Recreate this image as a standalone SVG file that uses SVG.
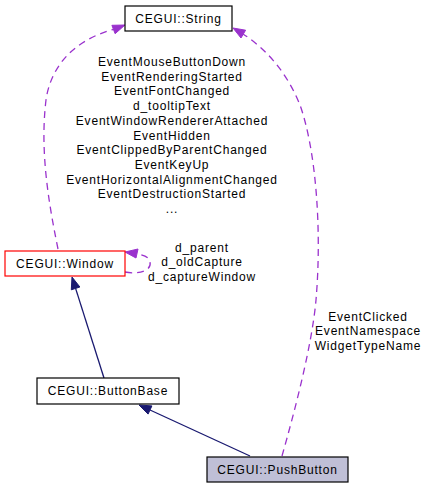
<svg xmlns="http://www.w3.org/2000/svg" width="425" height="488" viewBox="0 0 425 488">
<style>
text{font-family:"Liberation Sans",Arial,sans-serif;font-size:12px;letter-spacing:0.8px;fill:#000000;text-anchor:middle}
.box{fill:#ffffff;stroke:#000000;stroke-width:1.2}
.cur{fill:#bfbfd6;stroke:#000000;stroke-width:1.2}
.red{fill:#ffffff;stroke:#ff0000;stroke-width:1.2}
.inh{fill:none;stroke:#191970;stroke-width:1.3}
.use{fill:none;stroke:#9a32cd;stroke-width:1.3;stroke-dasharray:7,5}
.ah{fill:#191970;stroke:#191970}
.ap{fill:#9a32cd;stroke:#9a32cd}
</style>
<rect width="425" height="488" fill="#ffffff"/>
<g id="connectors">
<path class="inh" d="M104,378 L75.6,288.4"/>
<polygon class="ah" points="72,277 79.9,287 71.3,289.8"/>
<path class="inh" d="M250,456 L150,410"/>
<polygon class="ah" points="139,405 148.1,414.1 151.9,405.9"/>
<path class="use" d="M58,249 C48,200 40,150 46,100 C51,65 75,40 113,29.5"/>
<polygon class="ap" points="125,25 111.9,25.3 115.1,33.7"/>
<path class="use" d="M282,456 C295,410 312,345 316,300 C322,230 316,150 300,105 C288,75 268,50 243,34"/>
<polygon class="ap" points="233,28 241,38 245.6,30.2"/>
<path class="use" d="M125,272 C140,275 152,270 150,262 C149,257 144,255 137,254"/>
<polygon class="ap" points="125,252 138,249 136,258"/>
<text x="172" y="66">EventMouseButtonDown</text>
<text x="172" y="80.7">EventRenderingStarted</text>
<text x="172" y="95.4">EventFontChanged</text>
<text x="172" y="110.1">d_tooltipText</text>
<text x="172" y="124.8">EventWindowRendererAttached</text>
<text x="172" y="139.5">EventHidden</text>
<text x="172" y="154.2">EventClippedByParentChanged</text>
<text x="172" y="168.9">EventKeyUp</text>
<text x="172" y="183.6">EventHorizontalAlignmentChanged</text>
<text x="172" y="198.3">EventDestructionStarted</text>
<text x="172" y="213">...</text>
<text x="202" y="251.5">d_parent</text>
<text x="202" y="266.2">d_oldCapture</text>
<text x="202" y="280.9">d_captureWindow</text>
<text x="368" y="320.5">EventClicked</text>
<text x="368" y="335.2">EventNamespace</text>
<text x="368" y="349.9">WidgetTypeName</text>
</g>
<g id="node-string">
<rect class="box" x="125" y="6" width="107" height="25"/>
<text x="178.5" y="22.5">CEGUI::String</text>
</g>
<g id="node-window">
<rect class="red" x="5" y="251" width="120" height="25"/>
<text x="65" y="267.5">CEGUI::Window</text>
</g>
<g id="node-buttonbase">
<rect class="box" x="37" y="378" width="142" height="26"/>
<text x="108" y="395">CEGUI::ButtonBase</text>
</g>
<g id="node-pushbutton">
<rect class="cur" x="207" y="457" width="141" height="25"/>
<text x="277.5" y="473.5">CEGUI::PushButton</text>
</g>
</svg>
